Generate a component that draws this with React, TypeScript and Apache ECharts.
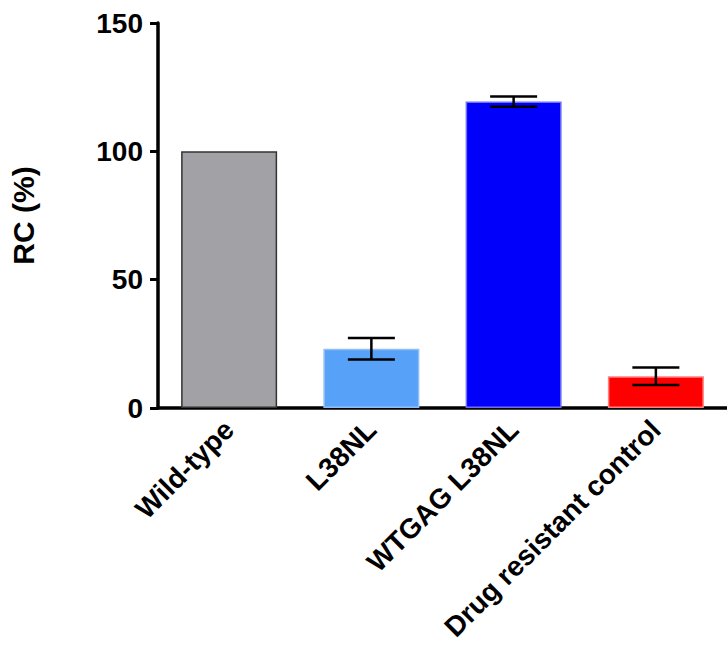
import React, { useEffect, useRef } from "react";
import * as echarts from "echarts";

const categories = ["Wild-type", "L38NL", "WTGAG L38NL", "Drug resistant control"];
const values = [100, 23.1, 119.4, 12.4];
const errors = [0, 4.2, 2.0, 3.4];
const colors = ["#a2a1a5", "#57a1f9", "#0000fb", "#fe0000"];
const borderColors = ["#333333", "#8fbff5", "#6f6ff0", "#ff8080"];
const yTicks = { min: 0, max: 150, interval: 50 };

export default function App() {
  const ref = useRef<HTMLDivElement>(null);
  useEffect(() => {
    const chart = echarts.init(ref.current!, null, { renderer: "svg" });
    const font = "'Liberation Sans', Arial, sans-serif";
    chart.setOption({
      animation: false,
      grid: { left: 156, right: -7, top: 23, bottom: 249 },
      xAxis: {
        type: "category",
        data: categories,
        axisLine: { lineStyle: { color: "#000", width: 3.5 } },
        axisTick: { alignWithLabel: true, length: 9, lineStyle: { color: "#000", width: 3 } },
        axisLabel: {
          rotate: 45,
          color: "#000",
          fontFamily: font,
          fontWeight: "bold",
          fontSize: 28,
          margin: 17,
          interval: 0,
        },
      },
      yAxis: {
        type: "value",
        min: yTicks.min,
        max: yTicks.max,
        interval: yTicks.interval,
        name: "RC (%)",
        nameLocation: "middle",
        nameGap: 120,
        nameTextStyle: { color: "#000", fontFamily: font, fontWeight: "bold", fontSize: 30 },
        splitLine: { show: false },
        axisLine: { show: true, lineStyle: { color: "#000", width: 3.5 } },
        axisTick: { show: true, length: 8, lineStyle: { color: "#000", width: 3 } },
        axisLabel: { color: "#000", fontFamily: font, fontWeight: "bold", fontSize: 28, margin: 15 },
      },
      series: [
        {
          type: "bar",
          barWidth: 96,
          data: values.map((v, i) => ({
            value: v,
            itemStyle: { color: colors[i], borderColor: borderColors[i], borderWidth: 1.5 },
          })),
          z: 2,
        },
        {
          type: "custom",
          z: 3,
          data: values.map((v, i) => [i, v - errors[i], v + errors[i]]).filter((_, i) => errors[i] > 0),
          renderItem: (params: any, api: any) => {
            const x = api.value(0);
            const lo = api.coord([x, api.value(1)]);
            const hi = api.coord([x, api.value(2)]);
            const half = 23.5;
            const style = { stroke: "#000", lineWidth: 2.5 };
            return {
              type: "group",
              children: [
                { type: "line", shape: { x1: lo[0], y1: lo[1], x2: hi[0], y2: hi[1] }, style },
                { type: "line", shape: { x1: lo[0] - half, y1: lo[1], x2: lo[0] + half, y2: lo[1] }, style },
                { type: "line", shape: { x1: hi[0] - half, y1: hi[1], x2: hi[0] + half, y2: hi[1] }, style },
              ],
            };
          },
        },
      ],
    });
    return () => chart.dispose();
  }, []);
  return (
    <div
      ref={ref}
      style={{ position: "fixed", left: 0, top: 0, width: 727, height: 657, background: "#fff" }}
    />
  );
}
